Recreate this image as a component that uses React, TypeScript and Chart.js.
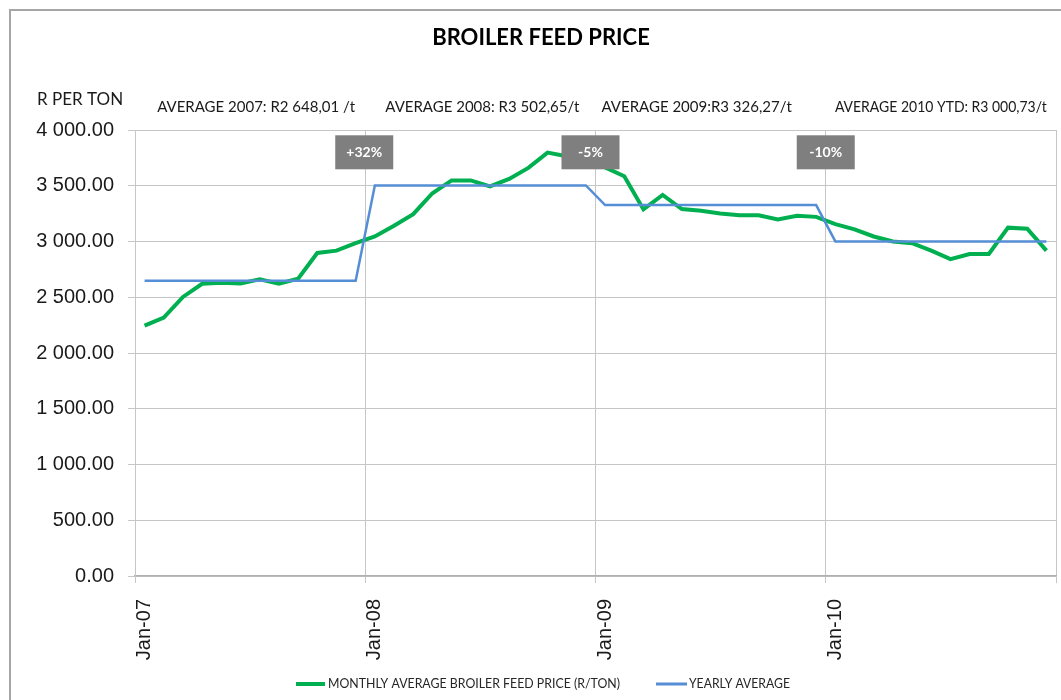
import React, { useEffect, useRef } from "react";
import { Chart, registerables } from "chart.js";

Chart.register(...registerables);

// ---------- DATA ----------
const monthNames = ["Jan", "Feb", "Mar", "Apr", "May", "Jun", "Jul", "Aug", "Sep", "Oct", "Nov", "Dec"];
const yearSuffixes = ["07", "08", "09", "10"];
const categories: string[] = yearSuffixes.flatMap((y) => monthNames.map((m) => `${m}-${y}`));

const monthlyPrice = [
  2246, 2318, 2503, 2621, 2630, 2624, 2661, 2621, 2667, 2897, 2918, 2985,
  3045, 3142, 3245, 3433, 3548, 3548, 3494, 3561, 3660, 3797, 3765, 3730,
  3665, 3585, 3288, 3418, 3291, 3276, 3252, 3236, 3236, 3197, 3230, 3221,
  3155, 3109, 3045, 3000, 2985, 2918, 2842, 2888, 2888, 3124, 3115, 2918,
];

const yearlyAverage = [
  2648.01, 2648.01, 2648.01, 2648.01, 2648.01, 2648.01, 2648.01, 2648.01, 2648.01, 2648.01, 2648.01, 2648.01,
  3502.65, 3502.65, 3502.65, 3502.65, 3502.65, 3502.65, 3502.65, 3502.65, 3502.65, 3502.65, 3502.65, 3502.65,
  3326.27, 3326.27, 3326.27, 3326.27, 3326.27, 3326.27, 3326.27, 3326.27, 3326.27, 3326.27, 3326.27, 3326.27,
  3000.73, 3000.73, 3000.73, 3000.73, 3000.73, 3000.73, 3000.73, 3000.73, 3000.73, 3000.73, 3000.73, 3000.73,
];

const averageLabels = [
  "AVERAGE 2007: R2 648,01 /t",
  "AVERAGE 2008: R3 502,65/t",
  "AVERAGE 2009:R3 326,27/t",
  "AVERAGE 2010 YTD: R3 000,73/t",
];

const changeLabels = ["+32%", "-5%", "-10%"];
const changeAtIndex = [12, 24, 36];
const changeLabelValue = 3800;

const seriesNames = ["MONTHLY AVERAGE BROILER FEED PRICE (R/TON)", "YEARLY AVERAGE"];
const titleText = "BROILER FEED PRICE";
const yAxisTitle = "R PER TON";

// ---------- STYLE / LAYOUT ----------
const GREEN = "#00b050";
const BLUE = "#558ed5";
const GRID = "#c6c6c6";
const averageShift = [6, 2, -14, 0];
const changeShift = [-1, -5, 0];

function fmt(v: number): string {
  const [i, d] = v.toFixed(2).split(".");
  return i.replace(/\B(?=(\d{3})+(?!\d))/g, " ") + "." + d;
}

const decorPlugin = {
  id: "decor",
  afterDatasetsDraw(chart: any) {
    const { ctx, scales } = chart;
    const xs = scales.x;
    const ys = scales.y;
    ctx.save();
    changeLabels.forEach((lab, k) => {
      const idx = changeAtIndex[k];
      const cx = (xs.getPixelForValue(idx - 1) + xs.getPixelForValue(idx)) / 2 + changeShift[k];
      const cy = ys.getPixelForValue(changeLabelValue);
      const w = 58;
      const h = 34;
      ctx.fillStyle = "#7f7f7f";
      ctx.fillRect(cx - w / 2, cy - h / 2, w, h);
      ctx.fillStyle = "#ffffff";
      ctx.font = "bold 14px Lato";
      ctx.textAlign = "center";
      ctx.textBaseline = "middle";
      ctx.fillText(lab, cx, cy);
    });
    ctx.restore();
  },
  afterDraw(chart: any) {
    const { ctx, scales } = chart;
    const xs = scales.x;
    ctx.save();
    // frame
    ctx.strokeStyle = "#a6a6a6";
    ctx.lineWidth = 2;
    ctx.beginPath();
    ctx.moveTo(10, 700);
    ctx.lineTo(10, 10);
    ctx.lineTo(1061, 10);
    ctx.stroke();

    // title
    ctx.fillStyle = "#000";
    ctx.font = "bold 22px Lato";
    ctx.textAlign = "center";
    ctx.textBaseline = "middle";
    ctx.fillText(titleText, 541, 38);

    // y axis title
    ctx.font = "17px Lato";
    ctx.textAlign = "left";
    ctx.fillStyle = "#1a1a1a";
    ctx.fillText(yAxisTitle, 37, 100);

    // averages
    ctx.font = "15px Lato";
    ctx.textAlign = "center";
    averageLabels.forEach((t, k) => {
      const a = xs.getPixelForValue(k * 12);
      const b = xs.getPixelForValue(k * 12 + 11);
      ctx.fillText(t, (a + b) / 2 + averageShift[k], 107, 212);
    });

    // legend
    const ly = 684;
    const items = [
      { color: GREEN, width: 4, x0: 296, x1: 325, tx: 328, tw: 292 },
      { color: BLUE, width: 3, x0: 656, x1: 687, tx: 689, tw: 101 },
    ];
    ctx.font = "13px Lato";
    ctx.textAlign = "left";
    ctx.textBaseline = "middle";
    items.forEach((it, k) => {
      ctx.strokeStyle = it.color;
      ctx.lineWidth = it.width;
      ctx.beginPath();
      ctx.moveTo(it.x0, ly);
      ctx.lineTo(it.x1, ly);
      ctx.stroke();
      ctx.fillStyle = "#262626";
      ctx.fillText(seriesNames[k], it.tx, ly, it.tw);
    });
    ctx.restore();
  },
};

export default function App() {
  const ref = useRef<HTMLCanvasElement | null>(null);
  useEffect(() => {
    if (!ref.current) return;
    const chart = new Chart(ref.current, {
      type: "line",
      data: {
        labels: categories,
        datasets: [
          {
            label: seriesNames[0],
            data: monthlyPrice,
            borderColor: GREEN,
            backgroundColor: GREEN,
            borderWidth: 4,
            pointRadius: 0,
            tension: 0,
            order: 1,
          },
          {
            label: seriesNames[1],
            data: yearlyAverage,
            borderColor: BLUE,
            backgroundColor: BLUE,
            borderWidth: 2.5,
            pointRadius: 0,
            tension: 0,
            order: 0,
          },
        ],
      },
      options: {
        responsive: false,
        animation: false,
        layout: { padding: { left: 0, top: 130, right: 5, bottom: 0 } },
        plugins: {
          legend: { display: false },
          title: { display: false },
          tooltip: { enabled: false },
        },
        scales: {
          x: {
            type: "category",
            offset: true,
            afterFit(scale: any) {
              scale.height = 124;
              scale.paddingLeft = 0;
              scale.paddingRight = 0;
            },
            grid: {
              offset: true,
              tickLength: 7,
              color: (c: any) =>
                c.index === undefined || c.index % 12 === 0 ? GRID : "rgba(0,0,0,0)",
            },
            border: { color: "#b0b0b0", width: 1.5 },
            ticks: {
              autoSkip: false,
              minRotation: 90,
              maxRotation: 90,
              padding: 16,
              color: "#1a1a1a",
              font: { family: "Liberation Sans", size: 20 },
              callback: (_v: any, i: number) => (i % 12 === 0 ? categories[i] : ""),
            },
          },
          y: {
            min: 0,
            max: 4000,
            afterFit(scale: any) {
              scale.width = 135;
              scale.paddingTop = 0;
              scale.paddingBottom = 0;
            },
            grid: { color: GRID, tickLength: 7 },
            border: { color: GRID },
            ticks: {
              stepSize: 500,
              padding: 14,
              color: "#1a1a1a",
              font: { family: "Liberation Sans", size: 20 },
              callback: (v: any) => fmt(Number(v)),
            },
          },
        },
      },
      plugins: [decorPlugin],
    } as any);
    return () => chart.destroy();
  }, []);
  return (
    <div style={{ position: "absolute", left: 0, top: 0, width: 1061, height: 700, background: "#fff" }}>
      <canvas ref={ref} width={1061} height={700} style={{ width: 1061, height: 700, display: "block" }} />
    </div>
  );
}
